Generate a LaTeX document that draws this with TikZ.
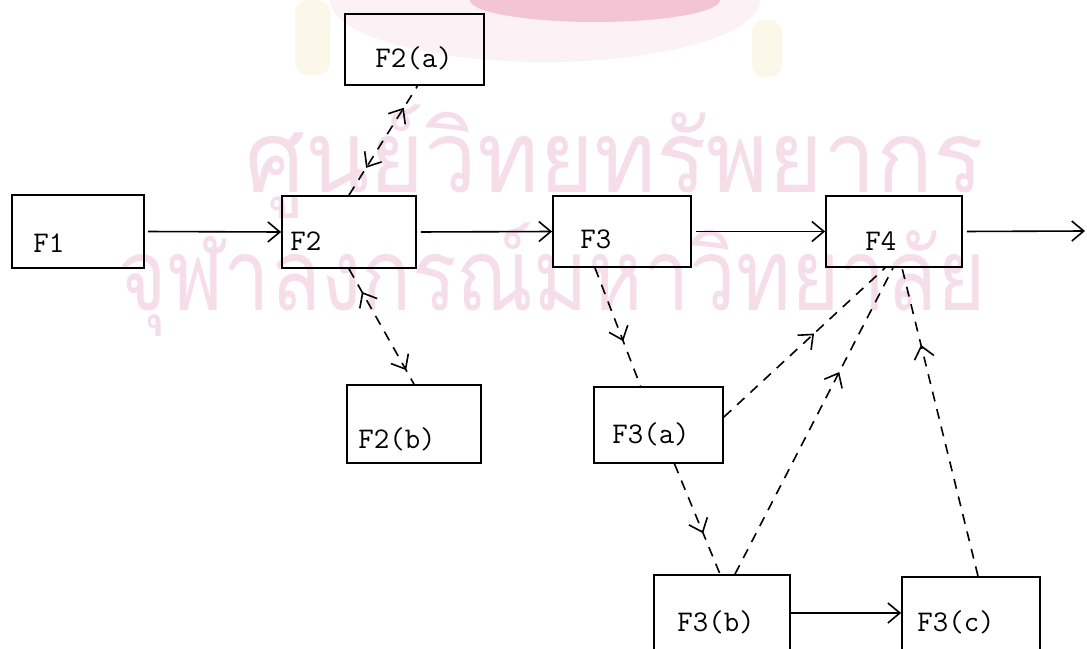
\documentclass[tikz,border=0pt]{standalone}
\usepackage{fontspec}
\usepackage{graphicx}
\newfontfamily\thaifont[Script=Thai]{Loma}
\usetikzlibrary{arrows.meta,decorations.markings,calc}
\definecolor{wm}{RGB}{246,222,233}
\definecolor{emblA}{RGB}{252,241,245}
\definecolor{emblB}{RGB}{242,196,212}
\definecolor{tass}{RGB}{251,248,234}
\newcommand\mkbox[5]{\node[box, minimum width={(#4-#2)*0.5pt}, minimum height={(#5-#3)*0.5pt}] (#1) at ({(#2+#4)/2},{(#3+#5)/2}) {};}
\tikzset{
  box/.style={draw, line width=0.9pt, inner sep=0pt},
  lbl/.style={anchor=base west, inner sep=0pt, font=\fontsize{15}{17}\selectfont\ttfamily},
  tip/.tip={Straight Barb[length=6pt,width=10pt,line width=0.8pt]},
  flow/.style={draw, line width=0.8pt, -tip},
  dsh/.style={draw, line width=0.8pt, dash pattern=on 5pt off 4pt},
  midarrow/.style={postaction={decorate, decoration={markings, mark=at position #1 with {\arrow{tip}}}}},
  midrev/.style={postaction={decorate, decoration={markings, mark=at position #1 with {\arrowreversed{tip}}}}}
}
\begin{document}
\begin{tikzpicture}[x=0.5pt,y=-0.5pt]
\useasboundingbox (0,0) rectangle (1087,648);
\clip (0,0) rectangle (1087,648);
% watermark
\fill[emblA] (545,0) ellipse [x radius=215, y radius=62];
\fill[emblB] (595,0) ellipse [x radius=125, y radius=22];
\fill[tass, rounded corners=6] (295,0) rectangle (330,75);
\fill[tass, rounded corners=6] (752,20) rectangle (782,77);
\node[anchor=base west, inner sep=0pt, text=wm] (wm1) at (245,192) {\scalebox{0.94}[1]{\fontsize{50}{50}\thaifont ศูนย์วิทยทรัพยากร}};
\node[anchor=base west, inner sep=0pt, text=wm] (wm2) at (118,310) {\scalebox{0.83}[1]{\fontsize{50}{50}\thaifont จุฬาลงกรณ์มหาวิทยาลัย}};
% boxes
\mkbox{f1}{12}{195}{144}{268}
\mkbox{f2}{282}{196}{416}{268}
\mkbox{f2a}{345}{14}{484}{85}
\mkbox{f2b}{347}{385}{481}{463}
\mkbox{f3}{553}{196}{691}{267}
\mkbox{f4}{826}{196}{962}{267}
\mkbox{f3a}{594}{387}{723}{463}
\mkbox{f3b}{654}{575}{790}{670}
\mkbox{f3c}{902}{577}{1040}{670}
% labels
\node[lbl] (t1) at (33,252) {F1};
\node[lbl] (t2) at (290,250) {F2};
\node[lbl] (t2a) at (375,67) {F2(a)};
\node[lbl] (t2b) at (358,448) {F2(b)};
\node[lbl] (t3) at (580,248) {F3};
\node[lbl] (t4) at (865,250) {F4};
\node[lbl] (t3a) at (612,443) {F3(a)};
\node[lbl] (t3b) at (677,631) {F3(b)};
\node[lbl] (t3c) at (917,631) {F3(c)};
% solid flow
\draw[flow, shorten <=1.5pt] (f1.east) -- (f2.west);
\draw[flow, shorten <=2pt] (f2.east) -- (f3.west);
\draw[flow, shorten <=2pt] (f3.east) -- (f4.west);
\coordinate (out) at (1085,231);
\draw[flow, shorten <=2pt] (f4.east) -- (out);
\draw[flow, line width=1.3pt] ($(f3b.east)+(0,-9.5)$) -- ($(f3c.west)+(0,-10.5)$);
% dashed
\draw[dsh, midrev=0.25, midarrow=0.8] (f2.north) -- ($(f2a.south)+(3,0)$);
\draw[dsh, midrev=0.2, midarrow=0.88] (f2.south) -- (f2b.north);
\draw[dsh, midarrow=0.62] ($(f3.south)+(-27,0)$) -- ($(f3a.north)+(-18,0)$);
\draw[dsh, midarrow=0.56] ($(f3a.east)+(0,-8)$) -- ($(f4.south)+(-9,0)$);
\draw[dsh, midarrow=0.63] ($(f3a.south)+(16,0)$) -- ($(f3b.north)+(-2,0)$);
\draw[dsh, midarrow=0.66] ($(f3b.north)+(13,0)$) -- ($(f4.south)+(-1,0)$);
\draw[dsh, midarrow=0.75] ($(f3c.north)+(7,0)$) -- ($(f4.south)+(8,0)$);
\end{tikzpicture}
\end{document}
